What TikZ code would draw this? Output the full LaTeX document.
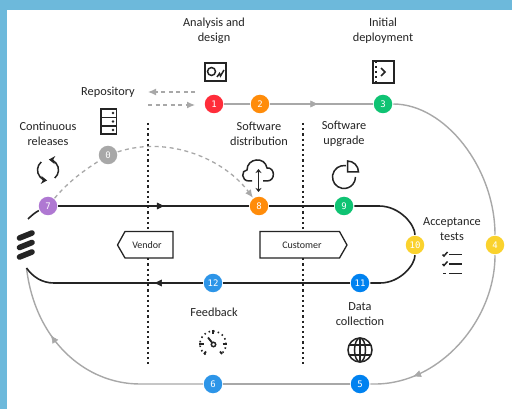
\documentclass[tikz,border=0pt]{standalone}
\usepackage{fontspec}
\setmainfont{Carlito}
\newfontfamily\numfont{DejaVu Sans Mono}
\usetikzlibrary{arrows.meta,decorations.markings}
\definecolor{backblue}{HTML}{6DB9DB}
\definecolor{ered}{HTML}{FF2D3A}
\definecolor{eorange}{HTML}{FF8C0A}
\definecolor{egreen}{HTML}{0FC373}
\definecolor{epurple}{HTML}{AF78D2}
\definecolor{eyellow}{HTML}{FAD22D}
\definecolor{eblue}{HTML}{0082F0}
\definecolor{lightblue}{HTML}{2D95E8}
\definecolor{linegrey}{HTML}{A8A8A8}
\definecolor{inkblack}{HTML}{242424}
\tikzset{
	numdot/.style={circle, minimum size=18.5pt, inner sep=0pt, outer sep=1pt, text=white, font=\numfont\fontsize{9}{9}\selectfont},
	caption/.style={align=center, text=inkblack, font=\fontsize{12.3}{15}\selectfont},
	tagtext/.style={text=inkblack, inner sep=0pt, font=\fontsize{10}{12}\selectfont},
	tagbox/.style={draw=inkblack, fill=white, line width=1.3pt},
	grey/.style={draw=linegrey, line width=1.4pt},
	dark/.style={draw=inkblack, line width=1.6pt},
	greydash/.style={draw=linegrey, line width=1.3pt, dash pattern=on 4pt off 3.5pt},
	divider/.style={draw=inkblack, line width=1.5pt, dash pattern=on 2.2pt off 3pt},
	icon/.style={draw=inkblack, line width=1.5pt},
	tipgrey/.style={postaction={decorate}, decoration={markings, mark=at position #1 with {\arrow[linegrey, line width=0.5pt]{Latex[length=8pt,width=7pt]}}}},
	tipdark/.style={postaction={decorate}, decoration={markings, mark=at position #1 with {\arrow[inkblack, line width=0.5pt]{Latex[length=8pt,width=7pt]}}}},
}
\begin{document}
\begin{tikzpicture}[x=1pt,y=-1pt]
	\useasboundingbox (0,0) rectangle (512,409);
	\fill[backblue] (0,0) rectangle (512,409);
	\fill[white] (7,10) rectangle (512,409);

	% numbered stops
	\node[numdot, fill=linegrey] (n0) at (108,155) {0};
	\node[numdot, fill=ered] (n1) at (214,104) {1};
	\node[numdot, fill=eorange] (n2) at (260,104) {2};
	\node[numdot, fill=egreen] (n3) at (383,104) {3};
	\node[numdot, fill=eyellow] (n4) at (495,245) {4};
	\node[numdot, fill=eblue] (n5) at (360,384) {5};
	\node[numdot, fill=lightblue] (n6) at (213,384) {6};
	\node[numdot, fill=epurple] (n7) at (48,206) {7};
	\node[numdot, fill=eorange] (n8) at (259,206) {8};
	\node[numdot, fill=egreen] (n9) at (344,206) {9};
	\node[numdot, fill=eyellow] (n10) at (415,245) {10};
	\node[numdot, fill=eblue] (n11) at (360,283) {11};
	\node[numdot, fill=lightblue] (n12) at (213,283) {12};

	\coordinate (logotop) at (28,219);
	\coordinate (logobot) at (26.5,268);
	\coordinate (repoin) at (148,92);
	\coordinate (repoinend) at (195,92);
	\coordinate (repoout) at (148,105);
	\coordinate (repooutend) at (195,105);
	\coordinate (vendtop) at (148,123);
	\coordinate (vendbot) at (148,367);
	\coordinate (custtop) at (303,123);
	\coordinate (custbot) at (303,367);

	% dividers
	\draw[divider] (vendtop) -- (vendbot);
	\draw[divider] (custtop) -- (custbot);
	\draw[tagbox] (117.5,245) -- (125,231.5) -- (173,231.5) -- (173,258) -- (125,258) -- cycle;
	\draw[tagbox] (260,231.5) -- (339.5,231.5) -- (347,245) -- (339.5,258) -- (260,258) -- cycle;
	\node[tagtext] (vendor) at (147,245) {Vendor};
	\node[tagtext] (customer) at (302,245) {Customer};

	% outer grey loop
	\draw[grey] (n1) -- (n2);
	\draw[grey, tipgrey=0.47] (n2) -- (n3);
	\draw[grey] (n3) .. controls (445,104) and (495,168) .. (n4);
	\draw[grey, tipgrey=0.78] (n4) .. controls (495,320) and (440,384) .. (375,384) -- (n5);
	\draw[grey] (n5) -- (n6);
	\draw[grey, tipgrey=0.7] (n6) -- (140,384) .. controls (85,384) and (35,340) .. (logobot);

	% inner dark loop
	\draw[dark] (logotop) .. controls (32,215) and (36,212) .. (n7);
	\draw[dark, tipdark=0.56] (n7) -- (n8);
	\draw[dark] (n8) -- (n9);
	\draw[dark] (n9) -- (379,206) .. controls (400,206) and (415,225) .. (n10);
	\draw[dark] (n10) .. controls (415,265) and (400,283) .. (380,283) -- (n11);
	\draw[dark] (n11) -- (n12);
	\draw[dark, tipdark=0.27] (n12) -- (54,283) .. controls (42,283) and (33,277) .. (logobot);

	% dashed repository links
	\draw[greydash, -{Latex[length=8pt,width=7pt]}] (repoinend) -- (repoin);
	\draw[greydash, -{Latex[length=8pt,width=7pt]}] (repoout) -- (repooutend);
	\draw[greydash] (n7) .. controls (70,180) and (85,170) .. (n0);
	\draw[greydash, -{Latex[length=8pt,width=7pt]}] (n0) .. controls (170,135) and (225,160) .. (n8);

	% captions
	\node[caption] (analysis) at (214,30.5) {Analysis and\\design};
	\node[caption] (initial) at (383,30.5) {Initial\\deployment};
	\node[caption] (repository) at (108,92) {Repository};
	\node[caption] (continuous) at (48,133.5) {Continuous\\releases};
	\node[caption] (distribution) at (259,133.5) {Software\\distribution};
	\node[caption] (upgrade) at (344,133.5) {Software\\upgrade};
	\node[caption] (acceptance) at (452,229.5) {Acceptance\\tests};
	\node[caption] (collection) at (360,314.5) {Data\\collection};
	\node[caption] (feedback) at (214,312) {Feedback};

	% ericsson bars
	\draw[inkblack, line width=5.6pt, line cap=round] (19.5,238) -- (32,233);
	\draw[inkblack, line width=5.6pt, line cap=round] (19.5,247.5) -- (32,242.5);
	\draw[inkblack, line width=5.6pt, line cap=round] (19.5,257) -- (32,252);

	% analysis icon
	\draw[icon] (205,63) rectangle (226,81);
	\draw[icon] (211.5,71.5) circle (4);
	\draw[icon] (217,77) -- (219.5,73.5) -- (220.5,76) -- (224,70);

	% deployment icon
	\draw[icon] (373,61) rectangle (394,83);
	\draw[icon, dash pattern=on 2.5pt off 2.5pt, line width=1.6pt] (376,61) -- (376,83);
	\draw[icon] (381,68) -- (385,72) -- (381,76);

	% repository icon
	\draw[icon] (101,109) rectangle (116.5,134);
	\draw[icon] (101,117.5) -- (116.5,117.5);
	\draw[icon] (101,126) -- (116.5,126);
	\fill[inkblack] (113,113) circle (1.4);
	\fill[inkblack] (113,121.5) circle (1.4);
	\fill[inkblack] (113,130) circle (1.4);

	% releases icon
	\draw[icon, -{Stealth[length=6pt,width=8pt]}] (48,170) ++(50:10.5) arc (50:-85:10.5);
	\draw[icon, -{Stealth[length=6pt,width=8pt]}] (48,170) ++(230:10.5) arc (230:95:10.5);

	% cloud icon
	\draw[icon] (252,181) -- (249,181) .. controls (241,181) and (241,170) .. (247,170) .. controls (247,158) and (265,156) .. (267,168) .. controls (275,167) and (276,181) .. (267,181) -- (263,181);
	\draw[icon, {Stealth[length=4pt,width=6pt]}-{Stealth[length=4pt,width=6pt]}] (258.5,169) -- (258.5,192);

	% upgrade icon
	\draw[icon] (344,177) ++(-80:11.5) arc (-80:-360:11.5);
	\draw[icon] (347.5,172) -- (347.5,161) arc (-90:0:11) -- cycle;

	% checklist icon
	\draw[icon] (449,254.5) -- (462,254.5);
	\draw[icon] (449,264) -- (462,264);
	\draw[icon] (449,273.5) -- (462,273.5);
	\draw[icon] (442.5,254.5) -- (444,256) -- (447.5,252);
	\draw[icon] (442.5,264) -- (444,265.5) -- (447.5,261.5);
	\draw[icon] (443,273.5) -- (446,273.5);

	% globe icon
	\draw[icon] (360,350) circle (12);
	\draw[icon] (360,350) ellipse (5.5 and 12);
	\draw[icon] (360,338) -- (360,362);
	\draw[icon] (349.1,345) -- (370.9,345);
	\draw[icon] (349.1,355) -- (370.9,355);

	% gauge icon
	\draw[icon, line width=1.6pt, dash pattern=on 1.5pt off 3.2pt] (213,344) ++(125:13) arc (125:415:13);
	\draw[icon, line width=1.8pt] (213,329.5) -- (213,334);
	\draw[icon, line width=1.8pt] (199,344) -- (203.5,344);
	\draw[icon, line width=1.8pt] (222.5,344) -- (227,344);
	\draw[icon, line width=1.8pt] (204,354) -- (206,351.5);
	\draw[icon, line width=1.8pt] (222,354) -- (220,351.5);
	\draw[icon] (213.5,344.5) circle (2.2);
	\draw[icon, line width=1.8pt] (212,342.5) -- (208,337.5);
\end{tikzpicture}
\end{document}
